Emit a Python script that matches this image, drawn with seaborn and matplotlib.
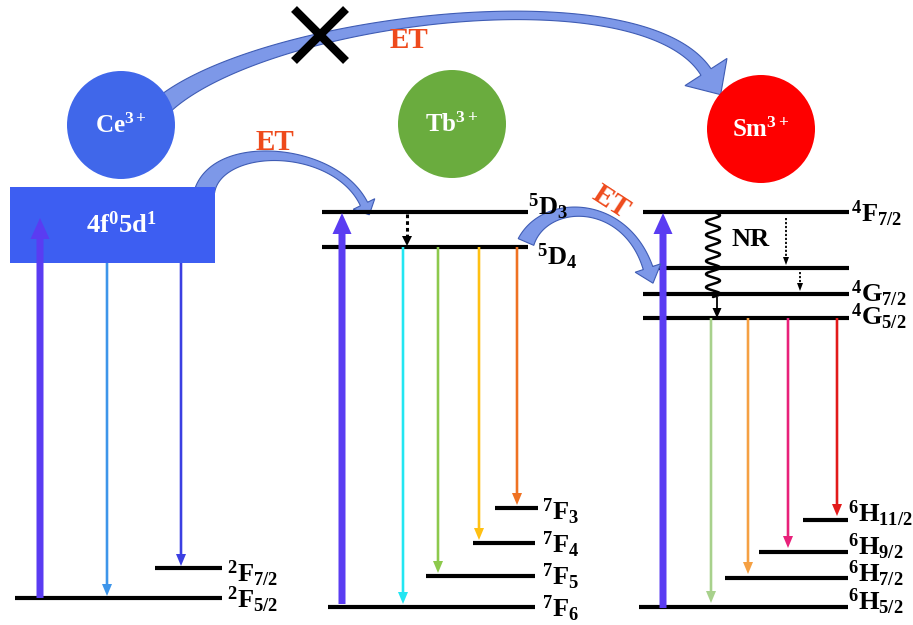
import numpy as np
import pandas as pd
import matplotlib
matplotlib.use("Agg")
import matplotlib.pyplot as plt
from matplotlib.patches import Polygon, Rectangle
import seaborn as sns

# ---------------- data ----------------
ions = ["Ce", "Tb", "Sm"]
ion_labels = [r"$\mathbf{Ce^{3+}}$", r"$\mathbf{Tb^{3+}}$", r"$\mathbf{Sm^{3+}}$"]

# Ce3+ levels (vertical position, larger = lower energy)
ce_level_names = [r"$\mathbf{^{2}F_{5/2}}$", r"$\mathbf{^{2}F_{7/2}}$"]
ce_level_y = [598, 568]
ce_band_name = r"$\mathbf{4f^{0}5d^{1}}$"
ce_band_top, ce_band_bottom = 187, 263

# Tb3+ levels
tb_level_names = [r"$\mathbf{^{5}D_{3}}$", r"$\mathbf{^{5}D_{4}}$", r"$\mathbf{^{7}F_{6}}$",
                  r"$\mathbf{^{7}F_{5}}$", r"$\mathbf{^{7}F_{4}}$", r"$\mathbf{^{7}F_{3}}$"]
tb_level_y = [212, 247, 607, 576, 543, 508]

# Sm3+ levels (second entry is an unlabelled intermediate level)
sm_level_names = [r"$\mathbf{^{4}F_{7/2}}$", "", r"$\mathbf{^{4}G_{7/2}}$", r"$\mathbf{^{4}G_{5/2}}$",
                  r"$\mathbf{^{6}H_{5/2}}$", r"$\mathbf{^{6}H_{7/2}}$", r"$\mathbf{^{6}H_{9/2}}$",
                  r"$\mathbf{^{6}H_{11/2}}$"]
sm_level_y = [212, 268, 294, 318, 607, 578, 552, 520]

# emission end points (index into the level lists)
ce_emission_to = [0, 1]
tb_emission_to = [2, 3, 4, 5]
sm_emission_to = [4, 5, 6, 7]

# ---------------- layout / style ----------------
ce_level_x = [(15, 222), (155, 222)]
ce_label_xy = [(227, 608), (227, 582)]
tb_level_x = [(322, 528), (322, 528), (328, 535), (426, 535), (473, 535), (495, 538)]
tb_label_xy = [(528, 215), (537, 265), (542, 617), (542, 585), (542, 553), (542, 520)]
sm_level_x = [(643, 849), (643, 849), (643, 849), (643, 849), (639, 848), (725, 848),
              (759, 848), (803, 848)]
sm_label_xy = [(851, 222), None, (851, 302), (851, 325), (848, 610), (848, 582),
               (848, 555), (848, 522)]

ce_emit_x = [107, 181]
ce_emit_colors = ["#3d95ea", "#3b3fe2"]
tb_emit_x = [403, 438, 479, 517]
tb_emit_colors = ["#22e6f2", "#8dc94c", "#ffc012", "#ef7222"]
sm_emit_x = [711, 748, 788, 837]
sm_emit_colors = ["#a8d18c", "#f5a043", "#e8217a", "#e21a1a"]

pump_color = "#5a3cf2"
et_color = "#ee4a1c"
circle_xy = [(121, 125), (452, 124), (761, 129)]
circle_colors = ["#4067ea", "#6aac3e", "#fe0000"]

sns.set_theme(style="white")
plt.rcParams["font.family"] = ["Liberation Serif", "DejaVu Serif"]
plt.rcParams["mathtext.fontset"] = "custom"
plt.rcParams["mathtext.rm"] = "Liberation Serif"
plt.rcParams["mathtext.bf"] = "Liberation Serif:bold"
plt.rcParams["mathtext.it"] = "Liberation Serif:italic"

fig = plt.figure(figsize=(9.13, 6.25), dpi=100)
ax = fig.add_axes([0, 0, 1, 1])
ax.set_xlim(0, 913)
ax.set_ylim(625, 0)
ax.axis("off")

LABEL_FS = 19


def bezier(p0, c1, c2, p3, n=120):
    t = np.linspace(0, 1, n)[:, None]
    p0, c1, c2, p3 = map(np.asarray, (p0, c1, c2, p3))
    pts = (1 - t) ** 3 * p0 + 3 * (1 - t) ** 2 * t * c1 + 3 * (1 - t) * t ** 2 * c2 + t ** 3 * p3
    d = 3 * (1 - t) ** 2 * (c1 - p0) + 6 * (1 - t) * t * (c2 - c1) + 3 * t ** 2 * (p3 - c2)
    return t[:, 0], pts, d


def curved_arrow(p0, c1, c2, p3, w0, wm, w1, hw, hl, fc="#7d98e8", ec="#3f5cb4", z=1):
    """Curved band arrow whose width goes w0 -> wm -> w1 along the path."""
    t, pts, d = bezier(p0, c1, c2, p3)
    d = d / np.linalg.norm(d, axis=1)[:, None]
    nrm = np.column_stack([-d[:, 1], d[:, 0]])
    w = ((1 - t) ** 2 * w0 + 2 * t * (1 - t) * wm + t ** 2 * w1)[:, None] / 2
    left = pts + nrm * w
    right = pts - nrm * w
    end, dn, nn = pts[-1], d[-1], nrm[-1]
    head = [end + nn * hw / 2, end + dn * hl, end - nn * hw / 2]
    poly = np.vstack([left, head, right[::-1]])
    ax.add_patch(Polygon(poly, closed=True, fc=fc, ec=ec, lw=0.8, zorder=z))


def down_arrow(x, y0, y1, color, width=2.6, hw=10, hl=12):
    ax.arrow(x, y0, 0, y1 - y0, width=width, head_width=hw, head_length=hl,
             length_includes_head=True, fc=color, ec="none", zorder=3)


def pump_arrow(x, y0, y1):
    ax.arrow(x, y0, 0, y1 - y0, width=7, head_width=19, head_length=21,
             length_includes_head=True, fc=pump_color, ec="none", zorder=3)


def dotted_arrow(x, y0, y1, lw, hw, hl):
    ax.plot([x, x], [y0, y1 - hl], color="black", lw=lw, ls=(0, (1.2, 1.0)), zorder=3)
    ax.arrow(x, y1 - hl, 0, hl, width=0.2, head_width=hw, head_length=hl,
             length_includes_head=True, fc="black", ec="none", zorder=3)


# ---------------- energy transfer arrows ----------------
curved_arrow((158, 110), (250, 20), (640, -30), (706, 72), 20, 2, 12, 50, 27, z=1)
curved_arrow((205, 190), (220, 140), (335, 145), (364, 204), 20, 4, 8, 24, 12, z=1)
curved_arrow((526, 242), (545, 198), (625, 198), (648, 268), 17, 4, 10, 27, 16, z=4)

# blocked transfer
ax.plot([294, 346], [9, 61], color="black", lw=6, solid_capstyle="butt", zorder=5)
ax.plot([294, 346], [61, 9], color="black", lw=6, solid_capstyle="butt", zorder=5)

ET_FS = 21
ax.text(409, 41, "ET", color=et_color, fontsize=ET_FS, fontweight="bold",
        ha="center", va="center", zorder=5)
ax.text(275, 143, "ET", color=et_color, fontsize=ET_FS, fontweight="bold",
        ha="center", va="center", zorder=5)
ax.text(611, 202, "ET", color=et_color, fontsize=ET_FS, fontweight="bold",
        ha="center", va="center", rotation=-33, zorder=5)

# ---------------- ion circles ----------------
circles = pd.DataFrame({"ion": ions,
                        "x": [p[0] for p in circle_xy],
                        "y": [p[1] for p in circle_xy]})
sns.scatterplot(data=circles, x="x", y="y", hue="ion", palette=circle_colors,
                s=(2 * 54 * 0.72) ** 2, edgecolor="none", legend=False, ax=ax, zorder=2)
ax.set_xlabel("")
ax.set_ylabel("")
for (cx, cy), lab in zip(circle_xy, ion_labels):
    ax.text(cx, cy + 1, lab, color="white", fontsize=18, ha="center", va="center", zorder=6)

# ---------------- Ce3+ ----------------
ax.add_patch(Rectangle((10, ce_band_top), 205, ce_band_bottom - ce_band_top,
                       fc="#3d5ef2", ec="none", zorder=2))
ax.text(121, 225, ce_band_name, color="white", fontsize=19, ha="center", va="center", zorder=6)
for y, (x0, x1), name, (lx, ly) in zip(ce_level_y, ce_level_x, ce_level_names, ce_label_xy):
    ax.hlines(y, x0, x1, color="black", lw=3, zorder=3)
    ax.text(lx, ly, name, fontsize=LABEL_FS, ha="left", va="baseline", color="black")
pump_arrow(40, ce_level_y[0], 218)
for x, idx, c in zip(ce_emit_x, ce_emission_to, ce_emit_colors):
    down_arrow(x, ce_band_bottom, ce_level_y[idx] - 2, c)

# ---------------- Tb3+ ----------------
for y, (x0, x1), name, (lx, ly) in zip(tb_level_y, tb_level_x, tb_level_names, tb_label_xy):
    ax.hlines(y, x0, x1, color="black", lw=3, zorder=3)
    ax.text(lx, ly, name, fontsize=LABEL_FS, ha="left", va="baseline", color="black", zorder=6)
pump_arrow(342, tb_level_y[2] - 3, tb_level_y[0] + 1)
dotted_arrow(407, tb_level_y[0] + 2, tb_level_y[1] - 1, lw=2.2, hw=10, hl=10)
for x, idx, c in zip(tb_emit_x, tb_emission_to, tb_emit_colors):
    down_arrow(x, tb_level_y[1], tb_level_y[idx] - 3, c)

# ---------------- Sm3+ ----------------
for y, (x0, x1), name, lxy in zip(sm_level_y, sm_level_x, sm_level_names, sm_label_xy):
    ax.hlines(y, x0, x1, color="black", lw=3, zorder=3)
    if lxy is not None:
        ax.text(lxy[0], lxy[1], name, fontsize=LABEL_FS, ha="left", va="baseline",
                color="black", zorder=6)
pump_arrow(663, sm_level_y[4] + 1, sm_level_y[0] + 1)
dotted_arrow(786, sm_level_y[0] + 6, sm_level_y[1] - 3, lw=1.3, hw=6, hl=8)
dotted_arrow(800, sm_level_y[1] + 4, sm_level_y[2] - 3, lw=1.3, hw=6, hl=8)
for x, idx, c in zip(sm_emit_x, sm_emission_to, sm_emit_colors):
    down_arrow(x, sm_level_y[3], sm_level_y[idx] - 4, c)

# non-radiative relaxation: wavy line then a short solid arrow
wy = np.linspace(sm_level_y[0], 297, 400)
wx = 713 + 7 * np.sin((wy - wy[0]) / (wy[-1] - wy[0]) * 2 * np.pi * 6.5)
ax.plot(wx, wy, color="black", lw=1.8, zorder=4)
ax.arrow(717, 297, 0, sm_level_y[3] - 297, width=1.8, head_width=9, head_length=10,
         length_includes_head=True, fc="black", ec="none", zorder=4)
ax.text(731, 240, "NR", fontsize=LABEL_FS, fontweight="bold", ha="left", va="center",
        color="black", zorder=6)

fig.savefig("out.png", dpi=100)
